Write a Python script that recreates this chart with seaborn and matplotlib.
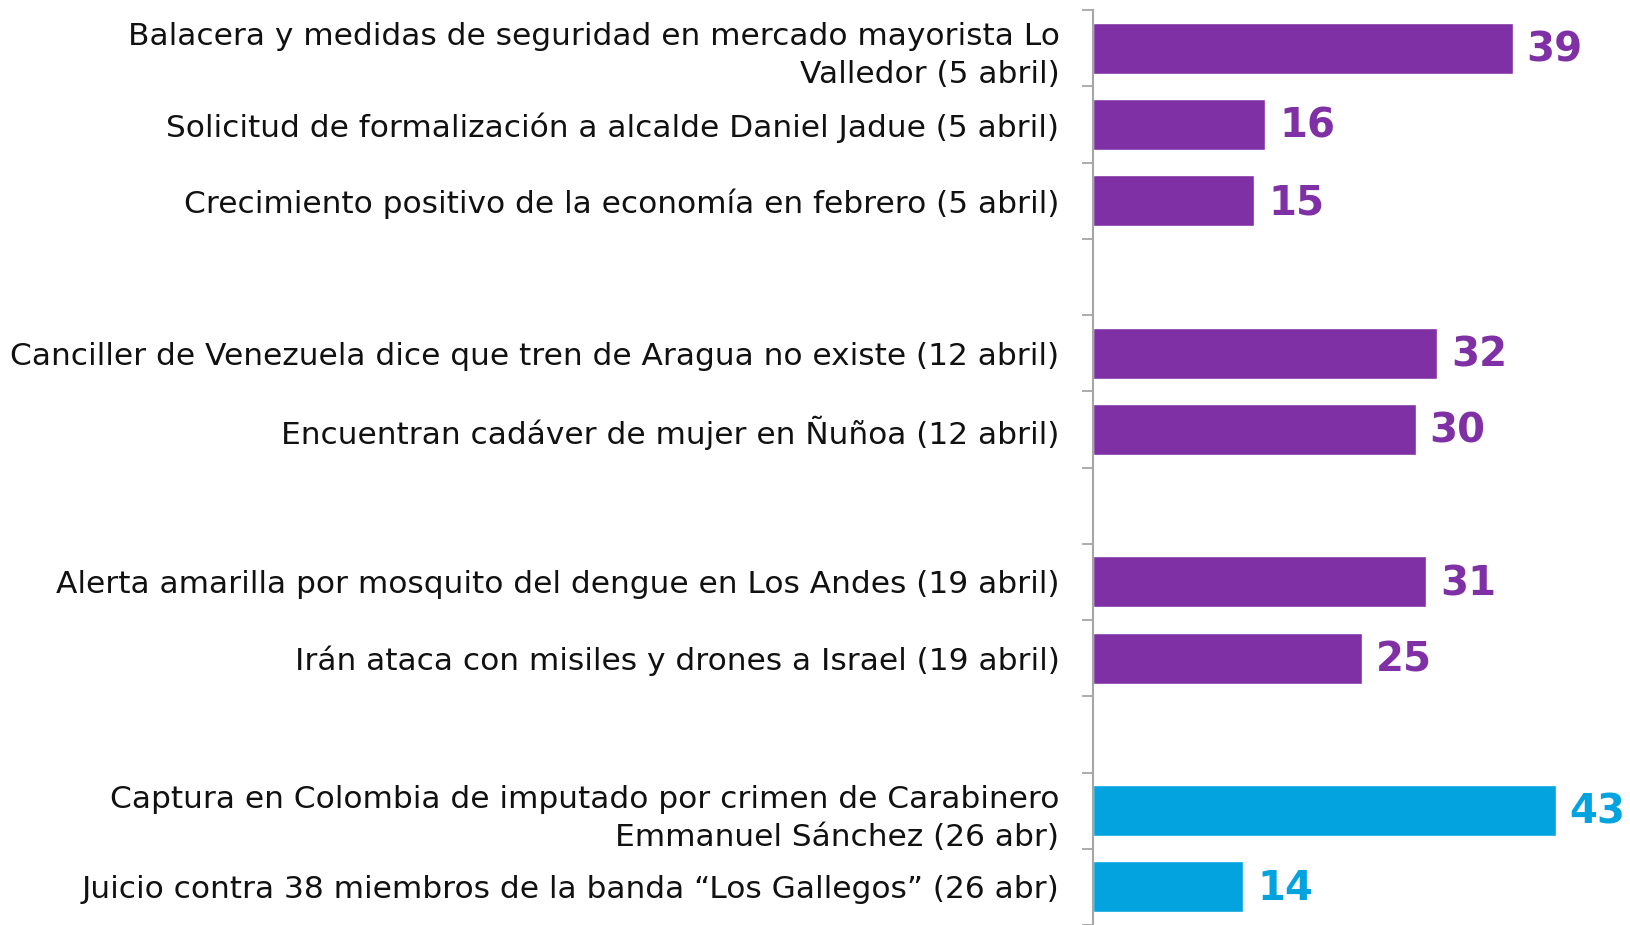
import pandas as pd
import matplotlib.pyplot as plt
import seaborn as sns

# Noticias y puntaje (barras), los huecos separan las semanas
noticias = [
    "Balacera y medidas de seguridad en mercado mayorista Lo\nValledor (5 abril)",
    "Solicitud de formalización a alcalde Daniel Jadue (5 abril)",
    "Crecimiento positivo de la economía en febrero (5 abril)",
    "Canciller de Venezuela dice que tren de Aragua no existe (12 abril)",
    "Encuentran cadáver de mujer en Ñuñoa (12 abril)",
    "Alerta amarilla por mosquito del dengue en Los Andes (19 abril)",
    "Irán ataca con misiles y drones a Israel (19 abril)",
    "Captura en Colombia de imputado por crimen de Carabinero\nEmmanuel Sánchez (26 abr)",
    "Juicio contra 38 miembros de la banda “Los Gallegos” (26 abr)",
]
valores = [39, 16, 15, 32, 30, 31, 25, 43, 14]
grupo = ["otra", "otra", "otra", "otra", "otra", "otra", "otra", "destacada", "destacada"]

orden = noticias[:3] + ["_g1"] + noticias[3:5] + ["_g2"] + noticias[5:7] + ["_g3"] + noticias[7:]
colores = {"otra": "#7F30A4", "destacada": "#03A3DF"}

df = pd.DataFrame({"noticia": noticias, "valor": valores, "grupo": grupo})

sns.set_theme(style="white")
plt.rcParams['font.family'] = ['DejaVu Sans']

fig = plt.figure(figsize=(16.31, 9.25), dpi=100)
ax = fig.add_axes([0.670, 0.0, 0.330, 0.989])

sns.barplot(data=df, x="valor", y="noticia", hue="grupo", order=orden,
            palette=colores, saturation=1, width=0.67, dodge=False,
            legend=False, ax=ax)

for bars in ax.containers:
    for bar in bars:
        w = bar.get_width()
        if pd.isna(w) or w == 0:
            continue
        ax.text(w + 1.3, bar.get_y() + bar.get_height() / 2 + 0.03, f"{int(w)}",
                va="center", ha="left", fontsize=29, fontweight="bold",
                color=bar.get_facecolor())

ax.set_xlim(0, 50)
ax.set_ylim(len(orden) - 0.5, -0.5)
ax.set_xlabel("")
ax.set_ylabel("")
ax.set_xticks([])

etiquetas = [t if not t.startswith("_g") else "" for t in orden]
ax.set_yticks(range(len(orden)))
ax.set_yticklabels(etiquetas, fontsize=22.5, color="#111111", ha="right",
                   multialignment="right", linespacing=1.4)
ax.set_yticks([i - 0.5 for i in range(len(orden) + 1)], minor=True)
ax.tick_params(axis="y", which="major", length=0, pad=24)
ax.tick_params(axis="y", which="minor", length=8, width=1.3, color="#A6A6A6", left=True)

for s in ["top", "right", "bottom"]:
    ax.spines[s].set_visible(False)
ax.spines["left"].set_color("#A6A6A6")
ax.spines["left"].set_linewidth(1.5)

plt.savefig("out.png", dpi=100)
